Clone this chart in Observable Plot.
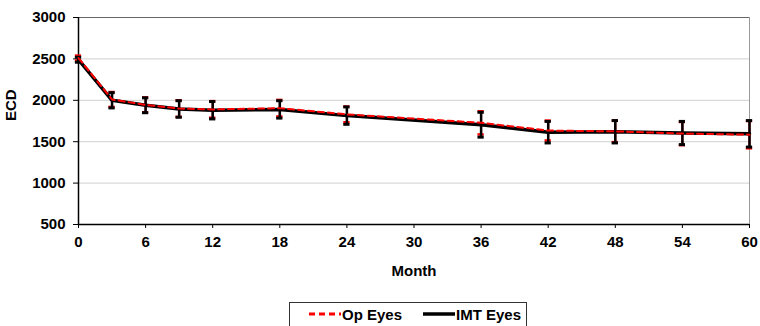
<!DOCTYPE html>
<html>
<head>
<meta charset="utf-8">
<script src="https://cdn.jsdelivr.net/npm/d3@7"></script>
<script src="https://cdn.jsdelivr.net/npm/@observablehq/plot@0.6"></script>
<style>
  html, body { margin: 0; padding: 0; background: #fff; }
  body { width: 760px; height: 326px; position: relative; overflow: hidden; font-family: "Liberation Sans", Arial, sans-serif; }
  #legend { position: absolute; left: 289px; top: 302px; width: 238px; height: 30px; border: 1px solid #333; box-sizing: border-box; display: flex; align-items: flex-start; padding-top: 2px; font-weight: bold; font-size: 15px; color: #000; }
  #legend .item { display: flex; align-items: center; }
  #legend svg { display: block; }
</style>
</head>
<body>
<div id="chart"></div>
<div id="legend"></div>
<script>
const months = [0, 3, 6, 9, 12, 18, 24, 36, 42, 48, 54, 60];
const opEyes = [2510, 2010, 1945, 1900, 1890, 1905, 1830, 1728, 1635, 1625, 1598, 1585];
const imtEyes = [2490, 2000, 1940, 1895, 1880, 1890, 1815, 1705, 1615, 1620, 1605, 1595];
const opErr = [30, 90, 90, 100, 100, 100, 95, 140, 120, 130, 140, 165];
const imtErr = [30, 92, 90, 100, 105, 105, 105, 150, 130, 135, 140, 160];
const xTicks = [0, 6, 12, 18, 24, 30, 36, 42, 48, 54, 60];
const yTicks = [500, 1000, 1500, 2000, 2500, 3000];
const seriesNames = ["Op Eyes", "IMT Eyes"];
const seriesColors = ["#ff0000", "#000000"];

const op = months.map((m, i) => ({month: m, value: opEyes[i], err: opErr[i]}));
const imt = months.map((m, i) => ({month: m, value: imtEyes[i], err: imtErr[i]}));
const capHalf = 0.28;

function errorMarks(data, color, w, capW) {
  return [
    Plot.ruleX(data, {x: "month", y1: d => d.value - d.err, y2: d => d.value + d.err, stroke: color, strokeWidth: w}),
    Plot.ruleY(data, {y: d => d.value + d.err, x1: d => d.month - capHalf, x2: d => d.month + capHalf, stroke: color, strokeWidth: capW}),
    Plot.ruleY(data, {y: d => d.value - d.err, x1: d => d.month - capHalf, x2: d => d.month + capHalf, stroke: color, strokeWidth: capW})
  ];
}

const chart = Plot.plot({
  width: 760,
  height: 296,
  marginLeft: 78,
  marginRight: 11,
  marginTop: 17,
  marginBottom: 72,
  style: {fontFamily: "'Liberation Sans', Arial, sans-serif", fontSize: "15px", fontWeight: "bold", color: "#000", background: "#fff"},
  x: {domain: [0, 60], ticks: xTicks, tickFormat: d => String(d), tickSize: 4, tickPadding: 8, label: null, line: false},
  y: {domain: [500, 3000], ticks: yTicks, tickFormat: d => String(d), tickSize: 5, tickPadding: 8, label: null, line: false},
  marks: [
    Plot.ruleY(yTicks.slice(1, -1), {stroke: "#d0d0d0", strokeWidth: 1}),
    Plot.ruleY([3000], {stroke: "#666", strokeWidth: 1}),
    Plot.ruleX([60], {stroke: "#999", strokeWidth: 1}),
    Plot.ruleX([0], {stroke: "#000", strokeWidth: 1.5}),
    Plot.ruleY([500], {stroke: "#000", strokeWidth: 1.5}),
    ...errorMarks(op, seriesColors[0], 2, 2.5),
    ...errorMarks(imt, seriesColors[1], 2.5, 3),
    Plot.line(imt, {x: "month", y: "value", stroke: seriesColors[1], strokeWidth: 3.5}),
    Plot.line(op, {x: "month", y: "value", stroke: seriesColors[0], strokeWidth: 2, strokeDasharray: "6,4"}),
    Plot.text(["Month"], {frameAnchor: "bottom", dy: 51, fontSize: 15, fontWeight: "bold", fill: "#000"}),
    Plot.text(["ECD"], {frameAnchor: "left", dx: -67, rotate: -90, fontSize: 15, fontWeight: "bold", fill: "#000"})
  ]
});
document.getElementById("chart").appendChild(chart);

// Legend
const legend = d3.select("#legend");
seriesNames.forEach((name, i) => {
  const item = legend.append("div").attr("class", "item").style("margin-left", i === 0 ? "18px" : "20px");
  const s = item.append("svg").attr("width", 34).attr("height", 18);
  s.append("line").attr("x1", 1).attr("x2", 33).attr("y1", 9).attr("y2", 9)
    .attr("stroke", seriesColors[i]).attr("stroke-width", i === 0 ? 3 : 3.5)
    .attr("stroke-dasharray", i === 0 ? "6,4" : null);
  item.append("span").text(name);
});
</script>
</body>
</html>
